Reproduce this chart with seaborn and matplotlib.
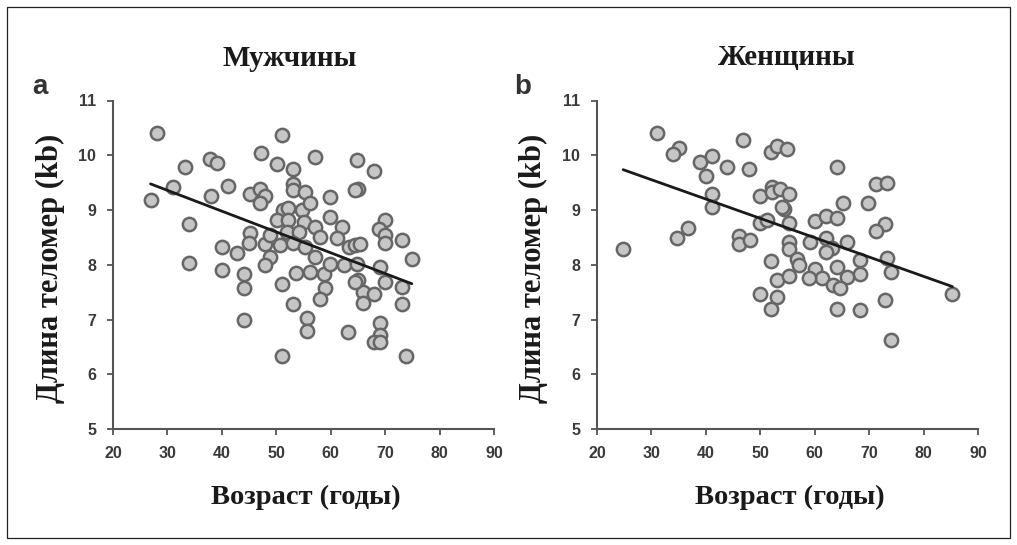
import numpy as np
import pandas as pd
import matplotlib
matplotlib.use("Agg")
import matplotlib.pyplot as plt
import seaborn as sns
from matplotlib.patches import Rectangle

# ---- data: age (years) and telomere length (kb) ----
men_age = [26.9, 28.1, 31.0, 33.2, 34.0, 34.0, 37.8, 39.1, 38.0, 41.1,
           40.0, 40.0, 42.8, 44.0, 44.0, 44.0, 45.2, 47.0, 48.0, 47.0,
           47.1, 45.2, 45.0, 47.9, 48.9, 47.9, 51.0, 50.1, 53.1, 53.1,
           53.1, 55.3, 51.3, 52.2, 54.7, 56.2, 50.1, 52.2, 55.0, 57.1,
           51.9, 54.1, 48.9, 50.7, 53.1, 55.3, 58.1, 51.0, 53.0, 51.0,
           55.6, 55.6, 53.7, 56.2, 58.7, 57.1, 59.9, 59.9, 62.0, 61.1,
           63.3, 64.5, 59.9, 62.5, 64.8, 57.1, 64.8, 68.0, 65.1, 64.5,
           70.0, 68.9, 70.0, 70.0, 73.1, 74.9, 69.1, 70.0, 73.1, 65.1,
           66.0, 67.9, 66.0, 59.0, 58.1, 73.1, 63.1, 69.0, 69.0, 67.9,
           69.0, 73.8, 64.5, 65.4]
men_tl = [9.19, 10.40, 9.42, 9.78, 8.75, 8.04, 9.94, 9.86, 9.25, 9.44,
          8.33, 7.91, 8.22, 7.84, 7.58, 6.99, 9.30, 9.38, 9.25, 9.12,
          10.04, 8.58, 8.40, 8.38, 8.14, 8.00, 10.37, 9.84, 9.75, 9.48,
          9.37, 9.33, 9.00, 9.04, 9.00, 9.12, 8.82, 8.82, 8.78, 8.69,
          8.60, 8.60, 8.54, 8.36, 8.39, 8.33, 8.51, 7.64, 7.28, 6.33,
          7.02, 6.79, 7.85, 7.87, 7.84, 8.14, 9.24, 8.88, 8.69, 8.48,
          8.33, 8.36, 8.02, 8.00, 8.02, 9.97, 9.92, 9.72, 9.38, 9.36,
          8.82, 8.65, 8.54, 8.39, 8.46, 8.10, 7.96, 7.69, 7.60, 7.72,
          7.50, 7.47, 7.30, 7.58, 7.37, 7.28, 6.77, 6.94, 6.71, 6.59,
          6.59, 6.33, 7.69, 8.38]

women_age = [24.8, 31.0, 35.0, 33.9, 39.0, 41.1, 40.1, 43.9, 48.0, 46.9,
             51.9, 53.1, 54.9, 41.1, 41.1, 50.0, 52.2, 52.2, 53.7, 55.2,
             54.3, 53.9, 50.0, 51.2, 55.2, 34.7, 36.8, 46.0, 46.0, 48.2,
             51.9, 55.2, 55.2, 60.1, 62.1, 64.1, 65.2, 69.7, 64.1, 71.2,
             73.2, 73.0, 71.2, 59.2, 62.1, 63.2, 62.0, 66.0, 68.4, 68.4,
             56.8, 57.1, 60.1, 61.3, 59.0, 64.1, 66.0, 63.4, 64.6, 53.1,
             55.2, 50.0, 53.1, 52.0, 64.1, 68.3, 73.2, 74.0, 85.3, 73.0,
             74.0]
women_tl = [8.28, 10.40, 10.14, 10.02, 9.88, 9.99, 9.63, 9.78, 9.74, 10.27,
            10.06, 10.16, 10.11, 9.29, 9.05, 9.25, 9.42, 9.33, 9.39, 9.29,
            9.01, 9.05, 8.76, 8.82, 8.76, 8.48, 8.68, 8.52, 8.38, 8.46,
            8.07, 8.41, 8.29, 8.80, 8.89, 8.86, 9.12, 9.12, 9.78, 9.47,
            9.49, 8.74, 8.62, 8.42, 8.48, 8.30, 8.24, 8.42, 8.08, 7.84,
            8.11, 7.99, 7.93, 7.75, 7.75, 7.96, 7.78, 7.63, 7.57, 7.72,
            7.79, 7.47, 7.41, 7.20, 7.20, 7.18, 8.13, 7.87, 7.46, 7.35,
            6.62]

# linear fits (intercept, slope) of telomere length on age
men_fit = (10.499, -0.0380)
women_fit = (10.612, -0.0353)

x_ticks = [20, 30, 40, 50, 60, 70, 80, 90]
y_ticks = [5, 6, 7, 8, 9, 10, 11]
panel_titles = ["Мужчины", "Женщины"]
panel_letters = ["a", "b"]
x_label = "Возраст (годы)"
y_label = "Длина теломер (kb)"

sns.set_theme(style="ticks")
plt.rcParams["font.family"] = ["Liberation Sans", "DejaVu Sans"]

W, H = 1017, 545
fig = plt.figure(figsize=(W / 100, H / 100), dpi=100)
fig.patch.set_facecolor("white")


def fx(px):
    return px / W


def fy(py):
    return 1 - py / H


panels = [
    dict(age=men_age, tl=men_tl, fit=men_fit, box=(113, 100.5, 494, 429),
         title_x=290, letter_x=40, ylab_x=50, xlab_x=306),
    dict(age=women_age, tl=women_tl, fit=women_fit, box=(597, 100.5, 978, 429),
         title_x=787, letter_x=523, ylab_x=533, xlab_x=790),
]

serif = ["Liberation Serif", "DejaVu Serif"]
axis_grey = "#555555"

for i, p in enumerate(panels):
    l, t, r, b = p["box"]
    ax = fig.add_axes([fx(l), fy(b), fx(r) - fx(l), fy(t) - fy(b)])
    df = pd.DataFrame({"age": p["age"], "tl": p["tl"]})
    sns.scatterplot(data=df, x="age", y="tl", ax=ax, s=92,
                    color="#c6c6c6", edgecolor="#666666", linewidth=1.8,
                    zorder=3, legend=False)
    a0, a1 = df["age"].min(), df["age"].max()
    line_x = np.array([a0, a1])
    line_y = p["fit"][0] + p["fit"][1] * line_x
    sns.lineplot(x=line_x, y=line_y, ax=ax, color="#1a1a1a", linewidth=2.0,
                 zorder=4)

    ax.set_xlim(20, 90)
    ax.set_ylim(5, 11)
    ax.set_xticks(x_ticks)
    ax.set_yticks(y_ticks)
    ax.set_xlabel("")
    ax.set_ylabel("")
    sns.despine(ax=ax)
    for side in ("left", "bottom"):
        ax.spines[side].set_color(axis_grey)
        ax.spines[side].set_linewidth(1.5)
    ax.tick_params(axis="both", direction="out", length=4, width=1.3,
                   color=axis_grey, labelsize=11.5, labelcolor="#3a3a3a", pad=8)
    for lab in ax.get_xticklabels() + ax.get_yticklabels():
        lab.set_fontweight("bold")

    fig.text(fx(p["title_x"]), fy(58), panel_titles[i], family=serif,
             weight="bold", size=21, color="#1a1a1a", ha="center", va="center")
    fig.text(fx(p["letter_x"]), fy(87), panel_letters[i], weight="bold",
             size=20, color="#333333", ha="center", va="center")
    fig.text(fx(p["xlab_x"]), fy(497), x_label, family=serif, weight="bold",
             size=20.5, color="#1a1a1a", ha="center", va="center")
    fig.text(fx(p["ylab_x"]), fy(268), y_label, family=serif, weight="bold",
             size=22, color="#1a1a1a", ha="center", va="center", rotation=90)

# outer frame around the figure
fig.add_artist(Rectangle((fx(7), fy(538)), fx(1010) - fx(7), fy(7) - fy(538),
                         transform=fig.transFigure, fill=False,
                         edgecolor="#222222", linewidth=0.9))

fig.savefig("out.png", dpi=100, facecolor="white")
